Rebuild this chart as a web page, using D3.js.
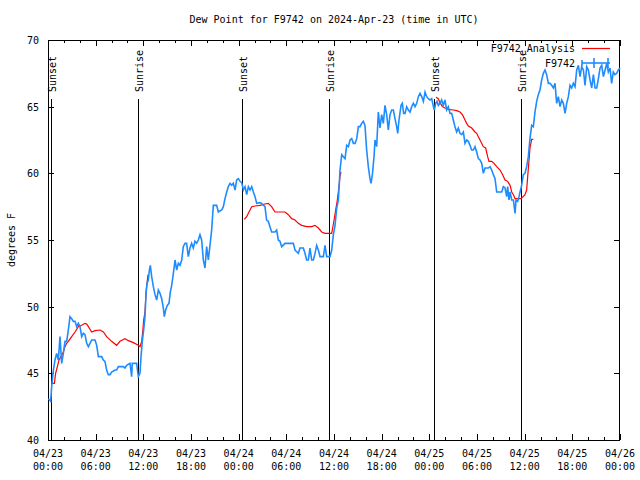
<!DOCTYPE html>
<html>
<head>
<meta charset="utf-8">
<script src="https://cdn.jsdelivr.net/npm/d3@7"></script>
<style>
html,body{margin:0;padding:0;background:#fff;}
svg text{font-family:"DejaVu Sans Mono",monospace;font-size:10px;fill:#000;}
</style>
</head>
<body>
<svg id="chart" width="640" height="480"></svg>
<script>
// ---- data (time in hours after 2024-04-23 00:00 UTC) ----
const obsHours = [0.04,0.34,0.46,0.67,0.88,1.09,1.30,1.51,1.72,1.93,2.14,2.35,2.56,2.77,2.98,3.19,3.40,3.61,3.82,4.03,4.24,4.45,4.66,4.87,5.08,5.29,5.50,5.92,6.13,6.34,6.76,6.97,7.17,7.38,7.59,7.80,8.01,8.43,8.64,8.85,9.48,9.69,9.90,10.32,10.53,10.61,11.16,11.29,11.37,11.58,11.71,11.87,12.04,12.21,12.34,12.46,12.63,12.76,12.88,13.05,13.26,13.47,13.68,13.89,14.10,14.31,14.52,14.64,14.81,15.02,15.23,15.40,15.57,15.78,15.99,16.20,16.41,16.62,16.83,17.03,17.24,17.45,17.66,17.87,18.08,18.29,18.50,18.71,18.92,19.13,19.34,19.55,19.76,19.97,20.18,20.39,20.60,20.81,21.23,21.44,21.86,22.07,22.28,22.49,22.70,22.91,23.12,23.33,23.54,23.75,23.96,24.17,24.38,24.59,24.80,25.01,25.22,25.43,25.64,25.85,26.06,26.27,26.68,26.89,27.31,27.52,27.73,27.94,28.15,28.57,28.78,28.99,29.20,29.41,29.83,30.88,31.09,31.51,31.72,32.14,32.35,32.56,32.77,32.98,33.19,33.40,33.61,33.82,34.03,34.24,34.45,34.66,34.87,35.08,35.50,35.71,35.92,36.13,36.34,36.55,36.76,36.97,37.18,37.39,37.60,37.81,38.02,38.23,38.44,38.65,38.86,39.07,39.28,39.48,39.69,39.90,40.11,40.32,40.53,40.66,40.83,41.04,41.16,41.37,41.58,41.79,42.00,42.21,42.42,42.63,42.84,43.05,43.26,43.47,43.68,43.89,44.02,44.18,44.44,44.60,44.77,44.94,45.15,45.36,45.57,45.78,45.99,46.20,46.41,46.62,46.83,47.04,47.25,47.46,47.67,47.88,48.09,48.30,48.51,48.63,48.80,48.97,49.13,49.34,49.55,49.76,49.97,50.18,50.39,50.60,50.81,51.02,51.23,51.44,51.65,51.86,52.07,52.28,52.49,52.70,52.91,53.12,53.33,53.54,53.75,53.96,54.17,54.38,54.59,54.80,55.01,55.43,55.64,55.85,56.06,56.27,56.48,56.69,57.11,57.32,57.53,57.74,57.86,58.03,58.16,58.37,58.58,58.79,58.91,59.12,59.29,59.42,59.62,59.83,60.04,60.25,60.46,60.67,60.88,61.09,61.30,61.51,61.72,61.93,62.14,62.35,62.56,62.77,62.98,63.19,63.40,63.61,63.82,64.03,64.24,64.45,64.66,64.87,65.08,65.29,65.50,65.71,65.92,66.13,66.34,66.55,66.76,66.97,67.18,67.39,67.60,67.81,68.02,68.23,68.44,68.65,68.86,69.07,69.28,69.49,69.70,69.91,70.12,70.33,70.53,70.74,70.95,71.16,71.37,71.58,71.79,72.00];
const obsDew = [43.1,42.9,44.0,45.2,46.0,46.5,46.0,47.75,45.75,46.5,47.4,47.4,48.25,49.25,49.1,48.9,48.9,48.5,48.75,48.5,47.75,48.0,47.9,47.25,47.0,47.25,47.5,47.5,47.1,46.25,46.25,46.0,45.9,45.25,44.9,44.9,45.1,45.25,45.25,45.5,45.5,45.4,45.6,45.75,44.75,45.75,45.75,45.1,44.75,45.0,46.25,47.4,48.25,49.25,51.0,51.75,52.0,52.75,53.1,52.25,51.5,50.9,50.5,51.25,51.0,50.6,49.9,49.25,49.75,50.1,50.25,51.1,51.6,52.5,53.5,52.75,53.25,53.1,53.5,54.5,54.75,54.75,53.75,54.4,54.75,54.4,54.9,54.75,55.0,55.4,55.0,53.5,52.9,54.5,53.5,54.6,55.75,57.6,57.6,57.1,57.25,57.5,58.1,58.6,59.0,59.25,59.1,59.25,58.75,59.5,59.6,59.4,59.3,58.75,59.0,58.4,59.0,58.75,59.0,58.6,58.25,57.75,57.8,57.75,57.5,56.5,56.4,56.0,55.6,55.6,55.75,55.0,54.9,54.5,54.75,54.75,54.25,54.0,54.4,54.4,54.0,53.5,53.5,54.4,53.5,53.5,54.0,54.6,54.25,53.75,53.75,53.75,54.6,53.75,53.75,54.25,55.4,56.1,57.4,58.0,60.25,61.4,61.25,61.1,62.1,62.0,62.5,62.6,62.25,62.25,62.6,63.5,63.5,63.75,63.9,63.6,61.75,60.5,59.6,59.25,59.9,61.25,62.5,62.0,64.6,63.4,64.4,63.75,65.1,64.4,63.25,64.4,64.75,64.75,64.1,63.5,63.0,64.0,65.1,65.25,64.5,64.5,65.0,64.75,64.6,65.0,65.25,65.0,65.25,65.75,66.0,65.75,65.4,66.1,65.75,65.6,65.5,65.6,65.0,64.75,65.25,65.4,65.1,65.25,65.5,65.1,65.5,64.75,65.0,64.5,64.5,64.0,63.5,63.1,63.4,63.0,62.9,63.1,62.25,62.5,62.4,62.1,61.75,61.75,62.0,61.6,61.1,61.0,60.75,60.0,60.4,60.4,60.5,60.25,59.9,59.6,58.6,58.6,58.6,59.0,58.9,58.25,59.0,58.0,58.6,58.0,58.0,57.0,58.0,57.9,58.25,58.6,59.1,59.9,60.0,60.5,61.25,62.6,63.6,63.5,64.6,65.4,65.9,66.25,67.0,67.5,67.75,67.4,66.75,66.75,66.6,66.4,66.75,65.25,65.75,65.0,65.5,65.25,64.5,65.25,65.75,66.6,66.4,66.75,66.5,67.75,68.1,67.25,68.0,67.75,66.6,68.0,67.75,67.0,66.4,67.4,66.4,66.4,67.1,67.9,68.1,67.25,67.75,68.25,67.6,67.9,66.75,67.6,67.4,67.5,67.75,67.9];

// analysis series: null marks a gap
const anaHours = [0.46,0.80,0.96,1.22,1.38,1.64,1.93,2.14,2.35,2.56,2.98,3.40,3.82,4.24,4.66,4.87,5.08,5.50,5.92,6.55,6.97,7.38,8.01,8.64,9.06,9.69,10.11,10.74,11.37,11.58,11.79,11.92,12.04,12.21,12.34,12.46,12.59,
  18.0,
  24.71,25.01,25.30,25.64,26.06,26.68,27.31,27.73,28.15,28.57,28.99,29.83,30.25,30.67,31.09,31.51,31.93,32.56,33.19,33.61,34.03,34.45,34.87,35.71,35.83,36.04,36.21,36.42,36.63,36.75,36.88,
  42.0,
  48.84,49.13,49.34,49.64,49.97,50.39,51.02,51.44,51.86,52.16,52.49,52.70,52.91,53.33,53.75,53.96,54.17,54.38,54.80,55.09,55.34,55.51,55.85,56.14,56.48,56.90,57.23,57.53,57.86,58.16,58.37,58.58,58.79,59.20,59.54,59.71,60.04,60.25,60.38,60.55,60.67,60.88,61.09];
const anaDew = [44.25,44.25,45.0,45.6,46.0,46.25,46.6,47.0,47.25,47.4,47.75,48.1,48.5,48.6,48.75,48.7,48.5,48.1,48.2,48.25,48.1,47.75,47.4,47.1,47.4,47.6,47.45,47.3,47.1,47.0,47.4,48.1,49.0,49.6,51.0,51.75,52.4,
  null,
  56.55,56.75,57.1,57.5,57.55,57.6,57.7,57.75,57.5,57.1,57.1,57.1,56.9,56.6,56.5,56.25,56.1,56.0,56.0,56.1,55.9,55.6,55.5,55.5,55.9,56.6,57.25,58.0,59.0,59.75,60.1,
  null,
  65.7,65.6,65.3,65.0,64.9,64.8,64.75,64.7,64.6,64.4,64.0,63.75,63.55,63.4,63.1,63.0,62.75,62.5,62.0,61.9,61.25,60.9,60.9,60.75,60.5,60.25,59.9,59.5,59.4,59.1,58.6,58.4,58.1,58.1,58.1,58.2,58.4,58.75,59.75,61.0,61.9,62.55,62.55];

const eventHours = [0.38,11.37,24.46,35.41,48.63,59.58];
const eventNames = ["Sunset","Sunrise","Sunset","Sunrise","Sunset","Sunrise"];
const yTicks = [40,45,50,55,60,65,70];
const seriesNames = ["F9742_Analysis","F9742"];
const titleText = "Dew Point for F9742 on 2024-Apr-23 (time in UTC)";
const yLabel = "degrees F";

// ---- drawing ----
const t0 = Date.UTC(2024,3,23,0,0);
const toDate = h => new Date(t0 + h*3600000);
const L=48, R=620, T=40, B=440;
const svg = d3.select("#chart");
const x = d3.scaleUtc().domain([toDate(0), toDate(72)]).range([L,R]);
const y = d3.scaleLinear().domain([40,70]).range([B,T]);
const blue = "#1e8cff", red = "#ff0000";

svg.append("text").attr("x",(L+R)/2).attr("y",23).attr("text-anchor","middle").text(titleText);
svg.append("text").attr("transform",`translate(15,${(T+B)/2}) rotate(-90)`).attr("text-anchor","middle").text(yLabel);

const g = svg.append("g").attr("shape-rendering","crispEdges").attr("stroke","#000").attr("stroke-width",1);
// y ticks (mirrored)
yTicks.forEach(v=>{
  const yy = Math.round(y(v))+0.5;
  g.append("line").attr("x1",L).attr("x2",L+6).attr("y1",yy).attr("y2",yy);
  g.append("line").attr("x1",R-6).attr("x2",R).attr("y1",yy).attr("y2",yy);
  svg.append("text").attr("x",39).attr("y",yy+3.5).attr("text-anchor","end").text(v);
});
// x ticks
const major = d3.utcHour.every(6).range(toDate(0), toDate(72.01));
const minor = d3.utcHour.every(2).range(toDate(0), toDate(72.01));
minor.forEach(d=>{
  const xx = Math.round(x(d))+0.5;
  const len = (d.getUTCHours()%6===0)?6:3;
  g.append("line").attr("x1",xx).attr("x2",xx).attr("y1",B).attr("y2",B-len);
  g.append("line").attr("x1",xx).attr("x2",xx).attr("y1",T).attr("y2",T+len);
});
const fDay = d3.utcFormat("%m/%d"), fTime = d3.utcFormat("%H:%M");
major.forEach(d=>{
  const xx = x(d);
  svg.append("text").attr("x",xx).attr("y",457).attr("text-anchor","middle").text(fDay(d));
  svg.append("text").attr("x",xx).attr("y",470).attr("text-anchor","middle").text(fTime(d));
});

// sunrise / sunset lines
eventHours.forEach((h,i)=>{
  const xx = Math.round(x(toDate(h)))+0.5;
  g.append("line").attr("x1",xx).attr("x2",xx).attr("y1",99).attr("y2",B);
  svg.append("text").attr("transform",`translate(${xx+4.5},92) rotate(-90)`).attr("text-anchor","start").text(eventNames[i]);
});

// series
const anaData = anaHours.map((h,i)=>({t:toDate(h), v:anaDew[i]}));
const obsData = obsHours.map((h,i)=>({t:toDate(h), v:obsDew[i]}));
const line = d3.line().defined(d=>d.v!==null).x(d=>x(d.t)).y(d=>y(d.v));
svg.append("path").datum(anaData).attr("d",line).attr("fill","none").attr("stroke",red).attr("stroke-width",1.2);
svg.append("path").datum(obsData).attr("d",line).attr("fill","none").attr("stroke",blue).attr("stroke-width",1.6);

// border
g.append("rect").attr("x",L+0.5).attr("y",T+0.5).attr("width",R-L-1).attr("height",B-T).attr("fill","none");

// legend
svg.append("text").attr("x",575).attr("y",52).attr("text-anchor","end").text(seriesNames[0]);
svg.append("line").attr("x1",582).attr("x2",610).attr("y1",48.5).attr("y2",48.5).attr("stroke",red).attr("stroke-width",1.2);
svg.append("text").attr("x",575).attr("y",67).attr("text-anchor","end").text(seriesNames[1]);
const lg = svg.append("g").attr("stroke",blue).attr("stroke-width",1.6);
lg.append("line").attr("x1",582).attr("x2",610).attr("y1",63).attr("y2",63);
lg.append("line").attr("x1",582).attr("x2",582).attr("y1",60).attr("y2",66);
lg.append("line").attr("x1",594).attr("x2",594).attr("y1",58).attr("y2",68);
lg.append("line").attr("x1",608).attr("x2",608).attr("y1",58).attr("y2",68);
</script>
</body>
</html>
